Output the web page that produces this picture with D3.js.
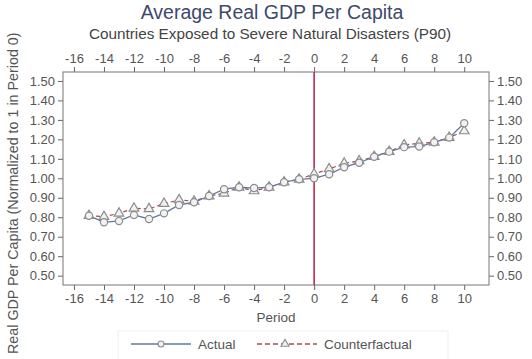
<!DOCTYPE html>
<html><head><meta charset="utf-8">
<script src="https://cdn.jsdelivr.net/npm/d3@7"></script>
<style>body{margin:0;background:#fff}svg{display:block}text{font-family:"Liberation Sans",Arial,sans-serif}</style>
</head><body><svg id="c" width="532" height="359"></svg>
<script>
const periods = [-15,-14,-13,-12,-11,-10,-9,-8,-7,-6,-5,-4,-3,-2,-1,0,1,2,3,4,5,6,7,8,9,10];
const actual = [0.808,0.774,0.781,0.812,0.791,0.82,0.863,0.877,0.909,0.944,0.954,0.95,0.954,0.98,0.995,1.0,1.021,1.057,1.08,1.111,1.137,1.16,1.163,1.185,1.209,1.283];
const counterfactual = [0.808,0.803,0.82,0.846,0.843,0.87,0.889,0.882,0.909,0.923,0.954,0.935,0.954,0.98,0.995,1.022,1.048,1.077,1.089,1.111,1.137,1.171,1.18,1.185,1.209,1.243];
const xTicks = [-16,-14,-12,-10,-8,-6,-4,-2,0,2,4,6,8,10];
const yTicks = [0.5,0.6,0.7,0.8,0.9,1.0,1.1,1.2,1.3,1.4,1.5];
const seriesNames = ["Actual","Counterfactual"];

const svg = d3.select("#c");
const L=63,R=489,T=72,B=285;
const x = d3.scaleLinear().domain([-16.73,11.65]).range([L,R]);
const y = d3.scaleLinear().domain([0.452,1.546]).range([B,T]);
const tc="#666", lc="#555";

svg.append("text").attr("x",272).attr("y",19).attr("text-anchor","middle").attr("font-size",19.5).attr("fill","#3d4a6b").text("Average Real GDP Per Capita");
svg.append("text").attr("x",270).attr("y",39).attr("text-anchor","middle").attr("font-size",15.3).attr("fill","#444").text("Countries Exposed to Severe Natural Disasters (P90)");

function styleAxis(g){
  g.select(".domain").remove();
  g.selectAll("line").attr("stroke",tc);
  g.selectAll("text").attr("fill",lc).attr("font-size",13);
}
svg.append("g").attr("transform",`translate(0,${B})`).call(d3.axisBottom(x).tickValues(xTicks).tickSize(5).tickPadding(4).tickFormat(d=>d)).call(styleAxis);
svg.append("g").attr("transform",`translate(0,${T})`).call(d3.axisTop(x).tickValues(xTicks).tickSize(5).tickPadding(4).tickFormat(d=>d)).call(styleAxis);
svg.append("g").attr("transform",`translate(${L},0)`).call(d3.axisLeft(y).tickValues(yTicks).tickSize(5).tickPadding(3).tickFormat(d3.format(".2f"))).call(styleAxis);
svg.append("g").attr("transform",`translate(${R},0)`).call(d3.axisRight(y).tickValues(yTicks).tickSize(5).tickPadding(3).tickFormat(d3.format(".2f"))).call(styleAxis);
svg.append("rect").attr("x",L).attr("y",T).attr("width",R-L).attr("height",B-T).attr("fill","none").attr("stroke","#777").attr("stroke-width",1);

svg.append("line").attr("x1",x(0)).attr("x2",x(0)).attr("y1",T).attr("y2",B).attr("stroke","#c0284f").attr("stroke-width",1.6);

svg.append("text").attr("x",276).attr("y",322).attr("text-anchor","middle").attr("font-size",13.5).attr("fill",lc).text("Period");
svg.append("text").attr("transform","translate(18,354) rotate(-90)").attr("font-size",14.3).attr("fill",lc).text("Real GDP Per Capita (Normalized to 1 in Period 0)");

const line = d3.line().x((d,i)=>x(periods[i])).y(d=>y(d));
const blue="#5c7ba3", red="#a84b55", mk="#8c8c8c";
svg.append("path").datum(counterfactual).attr("d",line).attr("fill","none").attr("stroke",red).attr("stroke-width",1.2).attr("stroke-dasharray","4,3");
svg.append("path").datum(actual).attr("d",line).attr("fill","none").attr("stroke",blue).attr("stroke-width",1.3);
const tri = d3.symbol().type(d3.symbolTriangle).size(40);
svg.append("g").selectAll("path").data(counterfactual).join("path").attr("d",tri).attr("transform",(d,i)=>`translate(${x(periods[i])},${y(d)})`).attr("fill","#f2f2f2").attr("stroke",mk).attr("stroke-width",1.2);
svg.append("g").selectAll("circle").data(actual).join("circle").attr("cx",(d,i)=>x(periods[i])).attr("cy",d=>y(d)).attr("r",3.6).attr("fill","#f2f2f2").attr("stroke",mk).attr("stroke-width",1.2);

// legend
svg.append("rect").attr("x",118).attr("y",331).attr("width",330).attr("height",30).attr("fill","none").attr("stroke","#f0f0f0");
const ly=344;
svg.append("line").attr("x1",131).attr("x2",191).attr("y1",ly).attr("y2",ly).attr("stroke",blue).attr("stroke-width",1.5);
svg.append("circle").attr("cx",161).attr("cy",ly).attr("r",3).attr("fill","#f2f2f2").attr("stroke",mk).attr("stroke-width",1.1);
svg.append("text").attr("x",198).attr("y",ly+5).attr("font-size",13.5).attr("fill",lc).text(seriesNames[0]);
svg.append("line").attr("x1",257).attr("x2",317).attr("y1",ly).attr("y2",ly).attr("stroke",red).attr("stroke-width",1.5).attr("stroke-dasharray","5,3");
svg.append("path").attr("d",d3.symbol().type(d3.symbolTriangle).size(28)).attr("transform",`translate(285,${ly})`).attr("fill","#f2f2f2").attr("stroke",mk).attr("stroke-width",1.1);
svg.append("text").attr("x",324).attr("y",ly+5).attr("font-size",13.5).attr("fill",lc).text(seriesNames[1]);
</script></body></html>
